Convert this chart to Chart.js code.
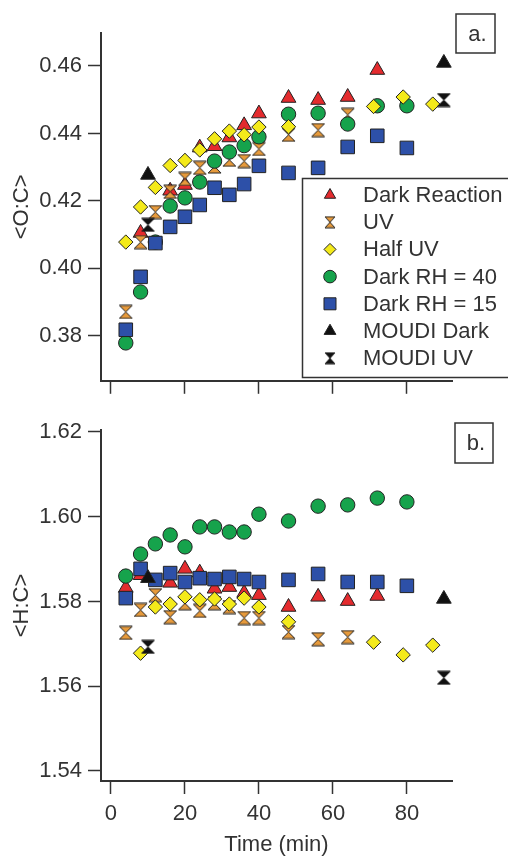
<!DOCTYPE html>
<html>
<head>
<meta charset="utf-8">
<script src="https://cdn.jsdelivr.net/npm/chart.js@4.4.0/dist/chart.umd.min.js"></script>
<style>
  html, body { margin: 0; padding: 0; background: #fff; }
  #wrap { position: relative; width: 508px; height: 856px; overflow: hidden; }
  #top { position: absolute; left: 0; top: 0; }
  #bot { position: absolute; left: 0; top: 400px; }
</style>
</head>
<body>
<div id="wrap">
  <canvas id="top" width="508" height="400"></canvas>
  <canvas id="bot" width="508" height="456"></canvas>
</div>
<script>
// time (min) for each series
const darkT  = [4, 8, 12, 16, 20, 24, 28, 32, 36, 40, 48, 56, 64, 72];
const uvT    = [4, 8, 12, 16, 20, 24, 28, 32, 36, 40, 48, 56, 64];
const halfT  = [4, 8, 12, 16, 20, 24, 28, 32, 36, 40, 48, 71, 79, 87];
const rh40T  = [4, 8, 12, 16, 20, 24, 28, 32, 36, 40, 48, 56, 64, 72, 80];
const rh15T  = [4, 8, 12, 16, 20, 24, 28, 32, 36, 40, 48, 56, 64, 72, 80];
const moudiT = [10, 90];

// <O:C>
const darkOC  = [null, 0.4105, null, 0.4230, 0.4247, 0.4358, 0.4362, 0.4388, 0.4424, 0.4459, 0.4505, 0.4499, 0.4508, 0.4588];
const uvOC    = [0.3871, 0.4078, 0.4167, 0.4227, 0.4265, 0.4298, 0.4302, 0.4322, 0.4318, 0.4354, 0.4396, 0.4410, 0.4455];
const halfOC  = [0.4078, 0.4182, 0.4240, 0.4305, 0.4320, 0.4351, 0.4384, 0.4407, 0.4396, 0.4419, 0.4420, 0.4480, 0.4508, 0.4487];
const rh40OC  = [0.3779, 0.3930, 0.4078, 0.4185, 0.4209, 0.4256, 0.4318, 0.4345, 0.4364, 0.4390, 0.4457, 0.4460, 0.4428, 0.4482, 0.4482];
const rh15OC  = [0.3818, 0.3975, 0.4075, 0.4123, 0.4153, 0.4188, 0.4239, 0.4218, 0.4250, 0.4304, 0.4283, 0.4298, 0.4360, 0.4393, 0.4357];
const mDarkOC = [0.4277, 0.4609];
const mUvOC   = [0.4129, 0.4499];

// <H:C>
const darkHC  = [1.5832, 1.5862, null, 1.5844, 1.5877, 1.5868, 1.5830, 1.5834, 1.5820, 1.5815, 1.5787, 1.5811, 1.5801, 1.5813];
const uvHC    = [1.5726, 1.5780, 1.5815, 1.5763, 1.5796, 1.5778, 1.5796, 1.5787, 1.5761, 1.5761, 1.5728, 1.5711, 1.5716];
const halfHC  = [null, 1.5678, 1.5787, 1.5794, 1.5811, 1.5804, 1.5806, 1.5794, 1.5808, 1.5787, 1.5752, 1.5704, 1.5674, 1.5697];
const rh40HC  = [1.5860, 1.5912, 1.5936, 1.5957, 1.5929, 1.5976, 1.5976, 1.5964, 1.5964, 1.6006, 1.5990, 1.6025, 1.6028, 1.6044, 1.6035];
const rh15HC  = [1.5808, 1.5877, 1.5851, 1.5867, 1.5846, 1.5855, 1.5853, 1.5858, 1.5853, 1.5846, 1.5851, 1.5865, 1.5846, 1.5846, 1.5837];
const mDarkHC = [1.5855, 1.5806];
const mUvHC   = [1.5693, 1.5620];

const FONT = '22px "Liberation Sans", Arial, sans-serif';
const INK = '#333';
const EDGE = '#222';

// hourglass marker, drawn once on a small canvas
function hourglass(w, h, fill) {
  const c = document.createElement('canvas');
  c.width = w + 2; c.height = h + 2;
  const g = c.getContext('2d');
  g.beginPath();
  g.moveTo(1, 1); g.lineTo(w + 1, 1); g.lineTo(1, h + 1); g.lineTo(w + 1, h + 1);
  g.closePath();
  g.fillStyle = fill; g.fill();
  g.strokeStyle = EDGE; g.lineWidth = 1; g.stroke();
  return c;
}

const series = [
  { label: 'Dark Reaction', t: darkT, oc: darkOC, hc: darkHC, color: '#e42b2e', style: 'triangle', r: 8.5, lr: 6.5, order: 6 },
  { label: 'UV', t: uvT, oc: uvOC, hc: uvHC, color: '#e69a3c', style: hourglass(13, 13, '#e69a3c'), lstyle: hourglass(10, 11, '#e69a3c'), r: 7, order: 5 },
  { label: 'Half UV', t: halfT, oc: halfOC, hc: halfHC, color: '#f4ea1a', style: 'rectRot', r: 7.2, lr: 6, order: 3 },
  { label: 'Dark RH = 40', t: rh40T, oc: rh40OC, hc: rh40HC, color: '#16a34c', style: 'circle', r: 7.2, lr: 6.3, order: 4 },
  { label: 'Dark RH = 15', t: rh15T, oc: rh15OC, hc: rh15HC, color: '#2d50a8', style: 'rect', r: 9.6, lr: 8.5, order: 2 },
  { label: 'MOUDI Dark', t: moudiT, oc: mDarkOC, hc: mDarkHC, color: '#111', style: 'triangle', r: 8.5, lr: 6.8, order: 1 },
  { label: 'MOUDI UV', t: moudiT, oc: mUvOC, hc: mUvHC, color: '#111', style: hourglass(13, 13, '#111'), lstyle: hourglass(10, 11, '#111'), r: 7, order: 0 }
];

const decor = {
  id: 'decor',
  afterDraw(chart, args, o) {
    const ctx = chart.ctx;
    ctx.save();
    ctx.font = FONT;
    ctx.textBaseline = 'middle';
    ctx.lineWidth = 1.5;
    ctx.strokeStyle = INK;
    // panel letter box
    const b = o.box;
    ctx.fillStyle = '#fff';
    ctx.fillRect(b[0], b[1], b[2], b[3]);
    ctx.strokeRect(b[0], b[1], b[2], b[3]);
    ctx.fillStyle = INK;
    ctx.textAlign = 'center';
    ctx.fillText(o.letter, b[0] + b[2] / 2 + 2, b[1] + b[3] / 2 + 1);
    if (o.legend) {
      ctx.fillStyle = '#fff';
      ctx.fillRect(302, 178, 220, 199);
      ctx.strokeRect(302.5, 178.5, 220, 199);
      ctx.textAlign = 'left';
      series.forEach((s, i) => {
        const y = 195 + i * 27.2;
        ctx.fillStyle = s.color;
        ctx.strokeStyle = EDGE;
        ctx.lineWidth = 1;
        Chart.helpers.drawPoint(ctx, { pointStyle: s.lstyle || s.style, radius: s.lr || s.r, rotation: 0, borderWidth: 1 }, 330, y);
        ctx.fillStyle = INK;
        ctx.fillText(s.label, 363, y + 1);
      });
    }
    ctx.restore();
  }
};

function makeChart(id, key, yMin, yMax, yTitle, bottom, decorOpts) {
  const datasets = series.map(s => ({
    label: s.label,
    data: s.t.map((t, i) => ({ x: t, y: s[key][i] })),
    pointStyle: s.style,
    pointRadius: s.r,
    pointHoverRadius: s.r,
    backgroundColor: s.color,
    borderColor: EDGE,
    pointBorderWidth: 1,
    order: s.order
  }));
  return new Chart(document.getElementById(id), {
    type: 'scatter',
    data: { datasets },
    plugins: [decor],
    options: {
      responsive: false,
      animation: false,
      layout: { padding: { left: 0, right: 56, top: bottom ? 30 : 33, bottom: 0 } },
      plugins: { legend: { display: false }, tooltip: { enabled: false }, decor: decorOpts },
      scales: {
        x: {
          type: 'linear',
          min: -2.7,
          max: 92.2,
          border: { color: INK, width: 2 },
          grid: { drawOnChartArea: false, drawTicks: true, tickLength: 13, tickColor: INK, tickWidth: 1.5 },
          ticks: {
            stepSize: 20,
            includeBounds: false,
            maxRotation: 0,
            autoSkip: false,
            padding: 7,
            color: bottom ? INK : 'rgba(0,0,0,0)',
            font: { family: '"Liberation Sans", Arial, sans-serif', size: 22 }
          },
          title: {
            display: bottom,
            text: 'Time (min)',
            color: INK,
            font: { family: '"Liberation Sans", Arial, sans-serif', size: 22, lineHeight: 1 },
            padding: { top: 0, bottom: 0 }
          },
          afterFit: s => { s.height = bottom ? 75 : 19; }
        },
        y: {
          type: 'linear',
          min: yMin,
          max: yMax,
          border: { color: INK, width: 2 },
          grid: { drawOnChartArea: false, drawTicks: true, tickLength: 13, tickColor: INK, tickWidth: 1.5 },
          ticks: {
            stepSize: 0.02,
            includeBounds: false,
            padding: 6,
            color: INK,
            font: { family: '"Liberation Sans", Arial, sans-serif', size: 22 },
            callback: v => v.toFixed(2)
          },
          title: {
            display: true,
            text: yTitle,
            color: INK,
            font: { family: '"Liberation Sans", Arial, sans-serif', size: 22 },
            padding: { top: 9, bottom: 0 }
          },
          afterFit: s => { s.width = 101; }
        }
      }
    }
  });
}

makeChart('top', 'oc', 0.36667, 0.46978, '<O:C>', false, { box: [456, 14, 39, 39], letter: 'a.', legend: true });
makeChart('bot', 'hc', 1.53764, 1.62047, '<H:C>', true, { box: [455, 23, 38, 40], letter: 'b.', legend: false });
</script>
</body>
</html>
